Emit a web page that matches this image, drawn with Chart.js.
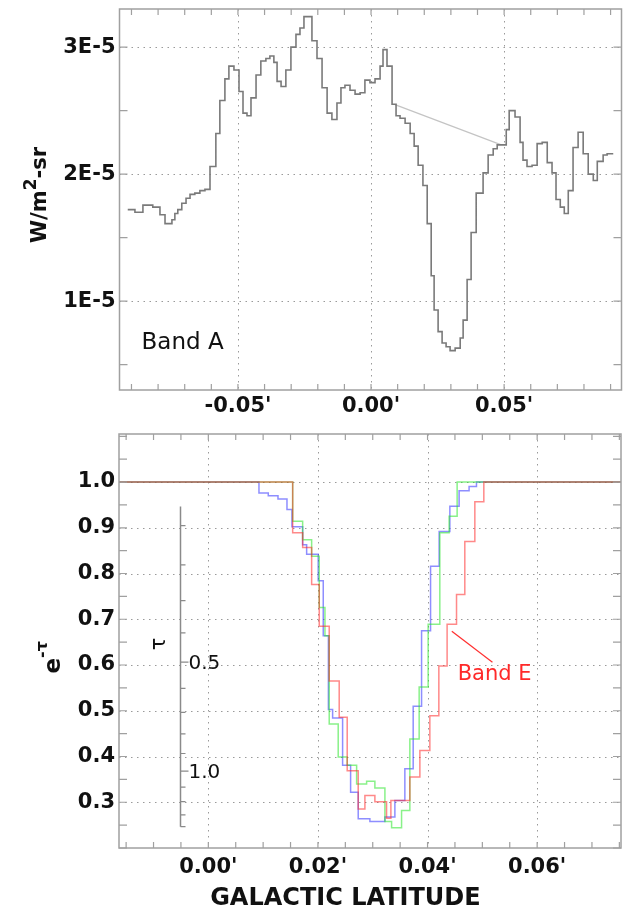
<!DOCTYPE html>
<html>
<head>
<meta charset="utf-8">
<script src="https://cdn.jsdelivr.net/npm/chart.js@4.4.0/dist/chart.umd.min.js"></script>
<style>
  body { margin: 0; background: #fff; }
  canvas { position: absolute; left: 0; }
  #topChart { top: 0; }
  #bottomChart { top: 420px; }
</style>
</head>
<body>
<canvas id="topChart" width="626" height="420"></canvas>
<canvas id="bottomChart" width="626" height="489"></canvas>
<script>
// ======== top panel: Band A brightness, units of 1E-5 W/m2-sr ========
// left edges of the bins (deg) and their value
const latA = [-0.0914, -0.0887, -0.0857, -0.0820, -0.0793, -0.0774, -0.0748, -0.0737, -0.0726, -0.0711,
  -0.0695, -0.0680, -0.0662, -0.0643, -0.0624, -0.0605, -0.0583, -0.0568, -0.0549, -0.0534,
  -0.0515, -0.0496, -0.0481, -0.0466, -0.0451, -0.0432, -0.0414, -0.0395, -0.0380, -0.0365,
  -0.0353, -0.0338, -0.0320, -0.0301, -0.0282, -0.0267, -0.0252, -0.0222, -0.0203, -0.0184,
  -0.0165, -0.0147, -0.0128, -0.0113, -0.0098, -0.0079, -0.0060, -0.0041, -0.0023, -0.0004,
  0.0015, 0.0034, 0.0045, 0.0060, 0.0079, 0.0094, 0.0109, 0.0128, 0.0147, 0.0162,
  0.0177, 0.0195, 0.0211, 0.0226, 0.0237, 0.0252, 0.0267, 0.0282, 0.0297, 0.0316,
  0.0335, 0.0346, 0.0361, 0.0376, 0.0395, 0.0421, 0.0440, 0.0459, 0.0474, 0.0508,
  0.0519, 0.0541, 0.0560, 0.0571, 0.0586, 0.0605, 0.0624, 0.0643, 0.0662, 0.0680,
  0.0695, 0.0711, 0.0726, 0.0741, 0.0759, 0.0778, 0.0797, 0.0816, 0.0835, 0.0850,
  0.0872, 0.0887];
const valA = [1.72, 1.70, 1.756, 1.74, 1.68, 1.61, 1.64, 1.69, 1.72, 1.77,
  1.81, 1.84, 1.85, 1.87, 1.88, 2.06, 2.32, 2.58, 2.75, 2.85,
  2.82, 2.65, 2.48, 2.46, 2.60, 2.78, 2.89, 2.91, 2.93, 2.88,
  2.73, 2.69, 2.82, 3.00, 3.10, 3.15, 3.24, 3.05, 2.91, 2.68,
  2.48, 2.43, 2.56, 2.68, 2.70, 2.66, 2.63, 2.64, 2.74, 2.72,
  2.75, 2.85, 2.98, 2.85, 2.55, 2.46, 2.44, 2.40, 2.32, 2.22,
  2.07, 1.91, 1.61, 1.20, 0.93, 0.76, 0.67, 0.64, 0.61, 0.63,
  0.71, 0.85, 1.17, 1.54, 1.85, 2.01, 2.15, 2.20, 2.23, 2.35,
  2.50, 2.45, 2.25, 2.11, 2.06, 2.07, 2.24, 2.25, 2.09, 2.01,
  1.80, 1.74, 1.69, 1.87, 2.21, 2.33, 2.16, 2.00, 1.95, 2.10,
  2.15, 2.16];
const latAEnd = 0.0910;
// straight baseline drawn across the cloud
const baseLat = [0.0090, 0.0487];
const baseVal = [2.547, 2.232];
const xTicksTop = [-0.05, 0, 0.05];
const yTicksTop = [1, 2, 3];

// ======== bottom panel: transmission e^-tau ========
const latStart = -0.0163, latEnd = 0.0753;
const latRed = [0.01539, 0.01721, 0.01885, 0.02024, 0.02206, 0.02388, 0.02534, 0.02735, 0.02857, 0.03039,
  0.03252, 0.03331, 0.03677, 0.03860, 0.04042, 0.04206, 0.04357, 0.04529, 0.04680, 0.04863, 0.05027];
const valRed = [0.889, 0.857, 0.776, 0.685, 0.565, 0.486, 0.369, 0.285, 0.315, 0.301,
  0.265, 0.304, 0.355, 0.413, 0.489, 0.598, 0.689, 0.754, 0.870, 0.957, 1.0];
const latGreen = [0.01539, 0.01721, 0.01885, 0.02024, 0.02128, 0.02206, 0.02370, 0.02534, 0.02706, 0.02888,
  0.03039, 0.03222, 0.03344, 0.03526, 0.03677, 0.03847, 0.04011, 0.04224, 0.04394, 0.04540];
const valGreen = [0.914, 0.874, 0.838, 0.726, 0.664, 0.471, 0.399, 0.381, 0.340, 0.346,
  0.331, 0.258, 0.244, 0.282, 0.438, 0.552, 0.689, 0.889, 0.925, 1.0];
const latBlue = [0.00924, 0.01094, 0.01271, 0.01435, 0.01526, 0.01721, 0.01794, 0.02005, 0.02097, 0.02191,
  0.02268, 0.02450, 0.02596, 0.02735, 0.02948, 0.03222, 0.03404, 0.03586, 0.03738, 0.03891,
  0.04055, 0.04212, 0.04407, 0.04576, 0.04758, 0.04893];
const valBlue = [0.976, 0.970, 0.963, 0.940, 0.902, 0.863, 0.842, 0.784, 0.664, 0.503,
  0.484, 0.381, 0.322, 0.264, 0.258, 0.268, 0.304, 0.373, 0.510, 0.675,
  0.816, 0.892, 0.947, 0.981, 0.990, 1.0];
const xTicksBottom = [0, 0.02, 0.04, 0.06];
const yTicksBottom = [0.3, 0.4, 0.5, 0.6, 0.7, 0.8, 0.9, 1.0];
const tauTicks = [0.1, 0.2, 0.3, 0.4, 0.5, 0.6, 0.7, 0.8, 0.9, 1.0, 1.1, 1.2, 1.3, 1.4];
const tauLabels = [0.5, 1.0];

const frameColor = '#a0a0a0';
const tickFont = { family: 'DejaVu Sans', size: 21, weight: 'bold' };

// bins -> points for a stepped line (value holds until the next edge)
function stepPoints(lats, vals, first, last) {
  const pts = [];
  if (first !== undefined) pts.push({ x: first, y: 1.0 });
  lats.forEach((x, i) => pts.push({ x: x, y: vals[i] }));
  pts.push({ x: last, y: vals[vals.length - 1] });
  return pts;
}

function drawRotated(ctx, baseX, centerY, parts) {
  ctx.save();
  let total = 0;
  parts.forEach(p => { ctx.font = p.font; p.w = ctx.measureText(p.text).width; total += p.w; });
  ctx.translate(baseX, centerY);
  ctx.rotate(-Math.PI / 2);
  ctx.textAlign = 'left';
  ctx.textBaseline = 'alphabetic';
  ctx.fillStyle = '#111';
  let pos = -total / 2;
  parts.forEach(p => { ctx.font = p.font; ctx.fillText(p.text, pos, -(p.raise || 0)); pos += p.w; });
  ctx.restore();
}

// dotted grid, framed box and inward ticks
function framePlugin(xMajor, yMajor, xMinorStep, yMinorStep, extras) {
  return {
    id: 'frame',
    beforeDatasetsDraw(chart) {
      const { ctx, chartArea: a, scales: { x, y } } = chart;
      ctx.save();
      ctx.strokeStyle = '#9a9a9a';
      ctx.lineWidth = 1;
      ctx.setLineDash([1.5, 4.5]);
      xMajor.forEach(v => {
        const px = Math.round(x.getPixelForValue(v)) + 0.5;
        ctx.beginPath(); ctx.moveTo(px, a.top); ctx.lineTo(px, a.bottom); ctx.stroke();
      });
      yMajor.forEach(v => {
        const py = Math.round(y.getPixelForValue(v)) + 0.5;
        ctx.beginPath(); ctx.moveTo(a.left, py); ctx.lineTo(a.right, py); ctx.stroke();
      });
      ctx.restore();
    },
    afterDraw(chart) {
      const { ctx, chartArea: a, scales: { x, y } } = chart;
      ctx.save();
      ctx.strokeStyle = frameColor;
      ctx.lineWidth = 1.5;
      ctx.strokeRect(a.left, a.top, a.right - a.left, a.bottom - a.top);
      ctx.lineWidth = 1.2;
      ctx.beginPath();
      for (let k = Math.ceil(x.min / xMinorStep - 1e-6); k * xMinorStep <= x.max + 1e-9; k++) {
        const px = x.getPixelForValue(k * xMinorStep);
        ctx.moveTo(px, a.bottom); ctx.lineTo(px, a.bottom - 6);
        ctx.moveTo(px, a.top); ctx.lineTo(px, a.top + 6);
      }
      for (let k = Math.ceil(y.min / yMinorStep - 1e-6); k * yMinorStep <= y.max + 1e-9; k++) {
        const py = y.getPixelForValue(k * yMinorStep);
        ctx.moveTo(a.left, py); ctx.lineTo(a.left + 8, py);
        ctx.moveTo(a.right, py); ctx.lineTo(a.right - 8, py);
      }
      ctx.stroke();
      ctx.restore();
      extras(chart);
    }
  };
}

function baseOptions(xMin, xMax, yMin, yMax, xTicks, yTicks, yWidth, xHeight, pad, xFmt, yFmt, xPad) {
  return {
    responsive: false,
    animation: false,
    devicePixelRatio: 1,
    layout: { padding: pad },
    plugins: { legend: { display: false }, tooltip: { enabled: false } },
    elements: { point: { radius: 0 } },
    scales: {
      x: {
        type: 'linear', min: xMin, max: xMax,
        grid: { display: false, drawTicks: false },
        border: { display: false },
        afterBuildTicks: s => { s.ticks = xTicks.map(v => ({ value: v })); },
        afterFit: s => { s.height = xHeight; s.paddingLeft = 0; s.paddingRight = 0; },
        ticks: { font: tickFont, color: '#111', padding: xPad, maxRotation: 0, autoSkip: false, callback: xFmt }
      },
      y: {
        type: 'linear', min: yMin, max: yMax,
        grid: { display: false, drawTicks: false },
        border: { display: false },
        afterBuildTicks: s => { s.ticks = yTicks.map(v => ({ value: v })); },
        afterFit: s => { s.width = yWidth; s.paddingTop = 0; s.paddingBottom = 0; },
        ticks: { font: tickFont, color: '#111', padding: 4, autoSkip: false, callback: yFmt }
      }
    }
  };
}

// ======== top chart ========
const topOpts = baseOptions(-0.0945, 0.0941, 0.3, 3.3, xTicksTop, yTicksTop, 119.5, 30,
  { top: 9, right: 4.5, left: 0, bottom: 0 },
  v => v.toFixed(2) + "'", v => v + 'E-5', 4);

new Chart(document.getElementById('topChart'), {
  type: 'line',
  data: {
    datasets: [
      { data: stepPoints(latA, valA, undefined, latAEnd), stepped: true, borderColor: '#7a7a7a', borderWidth: 1.6 },
      { data: baseLat.map((x, i) => ({ x: x, y: baseVal[i] })), borderColor: '#c4c4c4', borderWidth: 1.2 }
    ]
  },
  options: topOpts,
  plugins: [framePlugin(xTicksTop, yTicksTop, 0.01, 0.5, chart => {
    const { ctx, scales: { x, y } } = chart;
    ctx.save();
    ctx.fillStyle = '#111';
    ctx.font = '23px "DejaVu Sans"';
    ctx.textBaseline = 'middle';
    ctx.fillText('Band A', x.getPixelForValue(-0.0862), y.getPixelForValue(0.669));
    ctx.restore();
    drawRotated(ctx, 46, 195, [
      { text: 'W/m', font: 'bold 21px "DejaVu Sans"' },
      { text: '2', font: 'bold 17px "DejaVu Sans"', raise: 10 },
      { text: '-sr', font: 'bold 21px "DejaVu Sans"' }
    ]);
  })]
});

// ======== bottom chart ========
const botOpts = baseOptions(latStart, latEnd, 0.2, 1.105, xTicksBottom, yTicksBottom, 119, 61,
  { top: 14, right: 5, left: 0, bottom: 0 },
  v => v.toFixed(2) + "'", v => v.toFixed(1), 7);

new Chart(document.getElementById('bottomChart'), {
  type: 'line',
  data: {
    datasets: [
      { data: stepPoints(latRed, valRed, latStart, latEnd), stepped: true, borderColor: 'rgba(255,40,40,0.55)', borderWidth: 1.5 },
      { data: stepPoints(latGreen, valGreen, latStart, latEnd), stepped: true, borderColor: 'rgba(40,230,40,0.55)', borderWidth: 1.5 },
      { data: stepPoints(latBlue, valBlue, latStart, latEnd), stepped: true, borderColor: 'rgba(50,50,255,0.55)', borderWidth: 1.5 }
    ]
  },
  options: botOpts,
  plugins: [framePlugin(xTicksBottom, yTicksBottom, 0.005, 0.05, chart => {
    const { ctx, chartArea: a, scales: { x, y } } = chart;
    ctx.save();
    // inner tau axis
    const ax = Math.round(x.getPixelForValue(-0.00516)) + 0.5;
    ctx.strokeStyle = '#8a8a8a';
    ctx.lineWidth = 1.5;
    ctx.beginPath();
    ctx.moveTo(ax, y.getPixelForValue(Math.exp(-0.055)));
    ctx.lineTo(ax, y.getPixelForValue(Math.exp(-1.4)));
    ctx.stroke();
    ctx.lineWidth = 1.2;
    ctx.beginPath();
    tauTicks.forEach(t => {
      const py = y.getPixelForValue(Math.exp(-t));
      ctx.moveTo(ax, py); ctx.lineTo(ax + (tauLabels.includes(t) ? 8 : 5), py);
    });
    ctx.stroke();
    ctx.fillStyle = '#111';
    ctx.font = '20px "DejaVu Sans"';
    ctx.textBaseline = 'middle';
    tauLabels.forEach(t => ctx.fillText(t.toFixed(1), ax + 8, y.getPixelForValue(Math.exp(-t)) + 2));
    ctx.save();
    ctx.translate(160, y.getPixelForValue(0.646));
    ctx.rotate(-Math.PI / 2);
    ctx.textAlign = 'center';
    ctx.font = '21px "DejaVu Sans"';
    ctx.fillText('\u03c4', 0, 0);
    ctx.restore();
    // Band E label and pointer
    ctx.strokeStyle = '#ff3030';
    ctx.lineWidth = 1.2;
    ctx.beginPath();
    ctx.moveTo(x.getPixelForValue(0.04443), y.getPixelForValue(0.674));
    ctx.lineTo(x.getPixelForValue(0.05184), y.getPixelForValue(0.606));
    ctx.stroke();
    ctx.fillStyle = '#ff2a2a';
    ctx.font = '21px "DejaVu Sans"';
    ctx.fillText('Band E', x.getPixelForValue(0.0455), y.getPixelForValue(0.580));
    // axis title
    ctx.fillStyle = '#111';
    ctx.font = 'bold 24px "DejaVu Sans"';
    ctx.textAlign = 'center';
    ctx.textBaseline = 'alphabetic';
    ctx.fillText('GALACTIC LATITUDE', a.left + (a.right - a.left) * 0.451, a.bottom + 57);
    ctx.restore();
    drawRotated(ctx, 60, y.getPixelForValue(0.7) + 38, [
      { text: 'e', font: 'bold 23px "DejaVu Sans"' },
      { text: '-\u03c4', font: 'bold 16px "DejaVu Sans"', raise: 13 }
    ]);
  })]
});
</script>
</body>
</html>
